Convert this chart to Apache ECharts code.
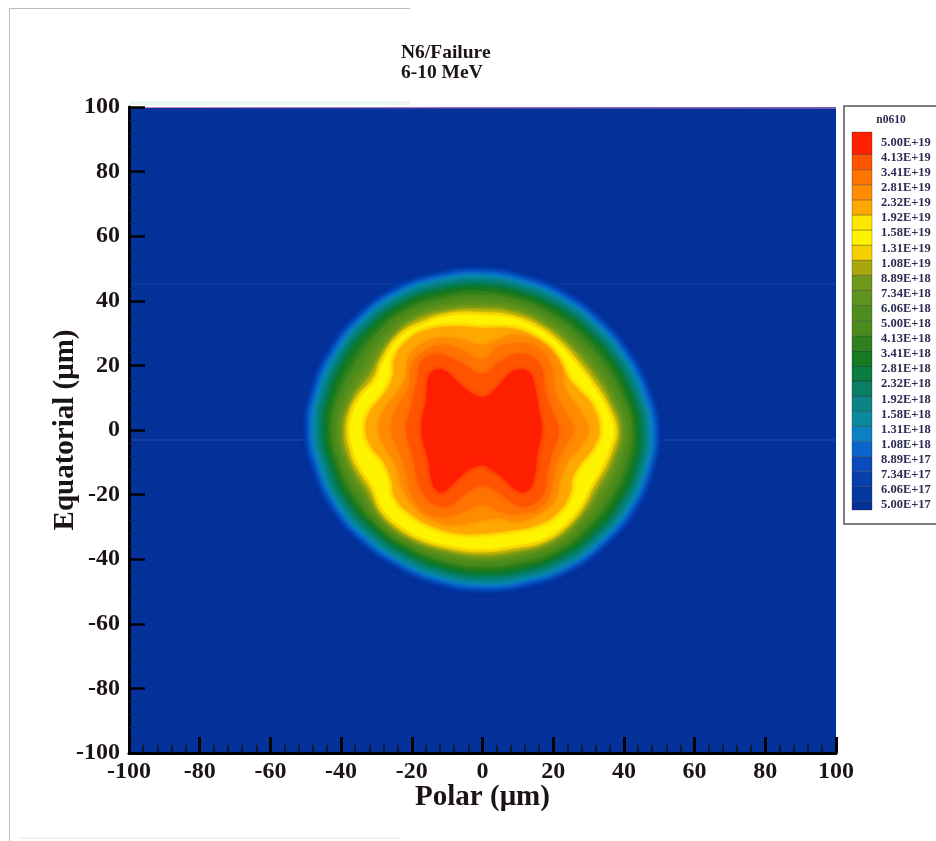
<!DOCTYPE html>
<html><head><meta charset="utf-8">
<style>html,body{margin:0;padding:0;background:#fff}#c{width:936px;height:841px;filter:blur(0.55px)}</style>
<script src="https://cdn.jsdelivr.net/npm/echarts@6/dist/echarts.min.js"></script>
</head><body><div id="c"></div>
<script>
const levelLabels=["5.00E+17","6.06E+17","7.34E+17","8.89E+17","1.08E+18","1.31E+18","1.58E+18","1.92E+18","2.32E+18","2.81E+18","3.41E+18","4.13E+18","5.00E+18","6.06E+18","7.34E+18","8.89E+18","1.08E+19","1.31E+19","1.58E+19","1.92E+19","2.32E+19","2.81E+19","3.41E+19","4.13E+19","5.00E+19"];
const levelColors=["#05329a","#0638a2","#0840ac","#0a4cbc","#0a66cc","#0c80c4","#0a8a9c","#0a8484","#0a7e66","#0a7c40","#167a22","#2e7f1e","#4a8a1e","#4f8e1e","#5f921e","#6f981a","#a8a80e","#f4d000","#fff400","#fde600","#ffa800","#ff8c00","#ff7400","#ff5400","#ff2000"];
// Legend band edges in level units (the labels sit just under each band edge)
const legendLow=-0.36, legendHigh=24.67, legendEdgeOffset=0.18;
// Outer contours: radii in µm, read every 15 degrees from +x counter-clockwise
const r1=[50.3,49.2,48.6,48.5,49.0,49.6,50.4,50.6,51.0,50.7,50.4,50.4,50.6,49.8,49.6,49.3,49.3,49.8,50.3,50.4,50.7,50.4,50.4,50.3];
const r2=[49.8,48.7,48.1,48.0,48.5,49.1,49.9,50.1,50.5,50.2,49.9,49.9,50.1,49.3,49.1,48.8,48.8,49.3,49.8,49.9,50.2,49.9,49.9,49.8];
const r3=[49.3,48.2,47.6,47.5,48.0,48.6,49.4,49.6,50.0,49.7,49.4,49.4,49.6,48.8,48.6,48.3,48.3,48.8,49.3,49.4,49.7,49.4,49.4,49.3];
const r4=[48.7,47.6,47.0,46.9,47.4,48.0,48.8,49.0,49.4,49.1,48.8,48.8,49.0,48.2,48.0,47.7,47.7,48.2,48.7,48.8,49.1,48.8,48.8,48.7];
const r5=[48.0,46.9,46.3,46.2,46.7,47.3,48.1,48.3,48.7,48.4,48.1,48.1,48.3,47.5,47.3,47.0,47.0,47.5,48.0,48.1,48.4,48.1,48.1,48.0];
const r6=[47.2,46.1,45.5,45.4,45.9,46.5,47.3,47.5,47.9,47.6,47.3,47.3,47.5,46.7,46.5,46.2,46.2,46.7,47.2,47.3,47.6,47.3,47.3,47.2];
const r7=[46.4,45.3,44.7,44.6,45.1,45.7,46.5,46.7,47.1,46.8,46.5,46.5,46.7,45.9,45.7,45.4,45.4,45.9,46.4,46.5,46.8,46.5,46.5,46.4];
const r8=[45.6,44.5,43.9,43.8,44.3,44.9,45.7,45.9,46.3,46.0,45.7,45.7,45.9,45.1,44.9,44.6,44.6,45.1,45.6,45.7,46.0,45.7,45.7,45.6];
const r9=[44.8,43.7,43.1,43.0,43.5,44.1,44.9,45.1,45.5,45.2,44.9,44.9,45.1,44.3,44.1,43.8,43.8,44.3,44.8,44.9,45.2,44.9,44.9,44.8];
const r10=[43.9,42.8,42.2,42.1,42.6,43.2,44.0,44.2,44.6,44.3,44.0,44.0,44.2,43.4,43.2,42.9,42.9,43.4,43.9,44.0,44.3,44.0,44.0,43.9];
const r11=[43,41.8,41.1,41,41.6,42.2,42.9,43.2,43.6,43.2,42.7,43,43.4,42.6,42.3,42.2,42.3,42.6,43,43.1,43.5,43,42.8,42.9];
const r12=[42.2,40.9,40,40,40.6,41.3,41.8,42.1,42.7,42.1,41.4,41.9,42.5,41.8,41.3,41.6,41.6,41.8,42.1,42.2,42.6,42.1,41.7,41.8];
const r13=[41.3,39.9,38.9,38.9,39.6,40.3,40.7,41.1,41.7,41,40.1,40.9,41.7,41,40.4,40.9,41,41,41.2,41.3,41.8,41.1,40.5,40.8];
const r14=[40.4,38.9,37.9,37.8,38.6,39.4,39.7,40.1,40.8,39.9,38.8,39.9,40.9,40.2,39.4,40.3,40.3,40.2,40.3,40.4,41,40.2,39.4,39.8];
const r15=[39.5,37.9,36.8,36.7,37.6,38.4,38.6,39.1,39.8,38.7,37.4,38.9,40.1,39.3,38.5,39.6,39.7,39.3,39.5,39.5,40.2,39.2,38.2,38.8];
const r16=[38.7,37,35.7,35.7,36.6,37.5,37.5,38,38.9,37.6,36.1,37.8,39.2,38.5,37.5,39,39,38.5,38.6,38.7,39.3,38.3,37.1,37.7];
// Core contours: [x,y] in µm, read around each outline counter-clockwise from +x
const p17=[[38,0],[35.6,7.7],[31.4,15],[26.7,21.7],[22,27.3],[16.3,32],[8.7,35.4],[0,36.4],[-9.7,36.1],[-17.2,33.5],[-23.8,29.4],[-28.5,22.2],[-30.9,16],[-35.1,10.8],[-37.5,5.7],[-38.4,0],[-37.5,-6.2],[-35.6,-11.4],[-31.4,-18.6],[-29,-24.8],[-24.3,-29.9],[-17.7,-34],[-9.2,-36.6],[0,-37.7],[8.7,-36.6],[17.2,-34.6],[23.8,-29.9],[28.5,-23.7],[31.4,-17.5],[34.7,-11.4],[37,-5.2]];
const p18=[[37,0],[34.7,7.3],[30.6,14.5],[26,21],[21.4,26.5],[15.8,31.1],[8.5,34.5],[0,35.4],[-9.4,35.1],[-16.7,32.6],[-23.1,28.6],[-27.7,21.6],[-30.1,15.5],[-34.2,10.3],[-36.5,5.4],[-37.4,0],[-36.5,-6],[-34.7,-11],[-30.6,-18],[-28.2,-24],[-23.7,-29],[-17.2,-33.1],[-9,-35.6],[0,-36.7],[8.5,-35.6],[16.7,-33.7],[23.2,-29.1],[27.7,-23.1],[30.6,-17],[33.8,-11],[36,-5]];
const p19=[[33.9,0],[31.9,8],[28.4,12.4],[25,16.6],[21.7,23.3],[15.8,29.2],[8.9,32.1],[0,32.4],[-8.9,32.9],[-15.7,31.9],[-21.6,28.6],[-25.6,22.6],[-26,17.4],[-28.4,11.9],[-32.6,6],[-33.9,0],[-32.3,-5.5],[-28.8,-10.2],[-26.5,-16],[-25.6,-21.1],[-21.1,-26.5],[-14.3,-30.7],[-6.6,-32.9],[0,-32.9],[8,-31.9],[15.7,-30.2],[21.7,-26.4],[25.6,-20.1],[26,-16],[27.9,-11.8],[32.3,-5.5]];
const p20=[[33,0],[31,7.7],[27.6,11.9],[24.3,16],[21,22.7],[15.3,28.4],[8.7,31.3],[0,31.5],[-8.7,32],[-15.3,31],[-21,27.9],[-24.8,22.2],[-25.2,17],[-27.6,11.4],[-31.8,5.7],[-33,0],[-31.4,-5.2],[-28,-9.8],[-25.7,-15.5],[-24.8,-20.6],[-20.5,-25.8],[-13.9,-29.9],[-6.4,-32],[0,-32],[7.8,-31],[15.3,-29.4],[21,-25.8],[24.8,-19.6],[25.2,-15.5],[27.1,-11.4],[31.4,-5.2]];
const p21=[[30,0],[27.1,6.7],[23.3,12.9],[22,20.1],[17.7,26.3],[9.7,29.4],[4,27.9],[0,26.3],[-5.9,27.9],[-12.5,28.4],[-17.7,26.3],[-21,22.2],[-21.5,17],[-24.5,11],[-27.6,6.7],[-29.3,0],[-27.1,-6.2],[-24.3,-11.4],[-22.9,-17.5],[-19.6,-23.2],[-15,-27.3],[-8.3,-29.4],[0,-27.9],[5,-27.3],[9.7,-28.4],[16.3,-25.8],[20.5,-21.7],[22,-15.5],[23.8,-10.3],[27.6,-5.2]];
const p22=[[25.7,0],[23.3,5.7],[20.5,11.9],[19.6,19.1],[15.8,25.3],[9.7,26.8],[4,25.3],[0,21.7],[-5.9,24.8],[-11.6,26.3],[-17.2,23.7],[-20,20.1],[-21,12.9],[-23.8,7.7],[-25.7,0],[-23.3,-7.2],[-21.5,-13.4],[-20,-19.6],[-16.7,-24.8],[-12,-26.8],[-6.4,-25.8],[0,-23],[5,-25.3],[11.6,-25.8],[17.2,-23.2],[19.6,-17.5],[21,-10.3],[23.3,-5.2]];
const p23=[[21.5,0],[19.6,5.7],[17.7,11.9],[16.7,19.1],[13.7,22.7],[9.7,23.4],[5,21],[0,17.3],[-5,20],[-8.7,22.2],[-12.5,23.4],[-17.2,21.2],[-18.2,16],[-20,7.7],[-21.5,0],[-19.6,-8.3],[-18.2,-15.5],[-16.3,-20.1],[-13,-23.2],[-9.2,-23.2],[-5.4,-20.1],[0,-17],[5,-19.6],[9.7,-23.2],[13.4,-23.2],[17.2,-19.6],[18.2,-13.4],[19.6,-7.2]];
const p24=[[16.7,0],[15.8,6.7],[14.4,15],[13,18],[10.6,18.6],[7.8,17.5],[4,12.9],[1.2,10.3],[-1.2,10.3],[-4,12],[-7.8,15.5],[-10.6,18.3],[-13.4,18.6],[-15.3,16],[-15.8,9.8],[-17.2,0],[-15.3,-9.3],[-14.4,-15.5],[-13,-18.6],[-11.1,-19.1],[-7.3,-15.5],[-3.5,-11.9],[0,-10.8],[2.1,-11.9],[5.9,-15],[9.7,-18.6],[12.5,-18.9],[14.4,-15.5],[15.5,-7.2]];

function fromRadii(r){return r.map((v,i)=>{const a=i*15*Math.PI/180;return [v*Math.cos(a),v*Math.sin(a)];});}
const outlines=[r1,r2,r3,r4,r5,r6,r7,r8,r9,r10,r11,r12,r13,r14,r15,r16].map(fromRadii)
  .concat([p17,p18,p19,p20,p21,p22,p23,p24]);

const serif='"Liberation Serif","Times New Roman",serif';
const ink='#1c1414';
const chart=echarts.init(document.getElementById('c'),null,{renderer:'canvas'});
chart.setOption({
  animation:false,backgroundColor:'#fff',
  title:[{text:'N6/Failure\n6-10 MeV',left:396,top:38,textStyle:{fontFamily:serif,fontWeight:'bold',fontSize:19.5,lineHeight:20,color:ink}}],
  grid:[
    {left:129,top:107,width:707,height:646,show:true,backgroundColor:levelColors[0],borderWidth:0},
    {left:852,top:135,width:20,height:377.6,show:false},
    {left:852,top:132,width:20,height:378,show:false}
  ],
  xAxis:[
    {gridIndex:0,type:'value',min:-100,max:100,interval:20,
     name:'Polar (μm)',nameLocation:'middle',nameGap:30,nameMoveOverlap:false,nameTextStyle:{fontFamily:serif,fontWeight:'bold',fontSize:29,color:ink},
     axisLine:{show:true,onZero:false,lineStyle:{color:'#000',width:3}},
     axisTick:{show:true,inside:true,length:16,lineStyle:{color:'#000',width:3}},
     minorTick:{show:true,splitNumber:5,length:8,lineStyle:{color:'#111',width:1.5}},
     splitLine:{show:false},minorSplitLine:{show:false},
     axisLabel:{fontFamily:serif,fontWeight:'bold',fontSize:24,color:ink,margin:7}},
    {gridIndex:1,type:'category',data:['n0610'],show:false},
    {gridIndex:2,type:'category',data:['n0610'],show:false}
  ],
  yAxis:[
    {gridIndex:0,type:'value',min:-100,max:100,interval:20,
     name:'Equatorial (μm)',nameLocation:'middle',nameRotate:90,nameGap:49,nameMoveOverlap:false,nameTextStyle:{fontFamily:serif,fontWeight:'bold',fontSize:29,color:ink},
     axisLine:{show:true,onZero:false,lineStyle:{color:'#000',width:3}},
     axisTick:{show:true,inside:true,length:16,lineStyle:{color:'#000',width:2.5}},
     minorTick:{show:true,splitNumber:5,length:8,lineStyle:{color:'#0a2a70',width:1}},
     splitLine:{show:false},minorSplitLine:{show:false},
     axisLabel:{fontFamily:serif,fontWeight:'bold',fontSize:24,color:ink,margin:9,padding:[3,0,0,0]}},
    {gridIndex:1,type:'category',data:levelLabels,position:'right',
     axisLine:{show:false},axisTick:{show:false},splitLine:{show:false},
     axisLabel:{interval:0,fontFamily:serif,fontWeight:'bold',fontSize:12.5,color:'#2b2b55',margin:9}},
    {gridIndex:2,type:'value',min:legendLow,max:legendHigh,show:false,splitLine:{show:false}}
  ],
  series:[
    {type:'custom',coordinateSystem:'cartesian2d',xAxisIndex:0,yAxisIndex:0,clip:true,silent:true,
     data:outlines.map((o,i)=>[i]),
     renderItem(params,api){
       const i=api.value(0),c=levelColors[i+1];
       return {type:'polygon',shape:{points:outlines[i].map(p=>api.coord(p)),smooth:0.45},
               style:{fill:c,stroke:c,lineWidth:0.5,shadowBlur:4,shadowColor:c}};
     }},
    {type:'custom',coordinateSystem:'cartesian2d',xAxisIndex:2,yAxisIndex:2,silent:true,
     data:levelLabels.map((l,i)=>[i,i===0?legendLow:i-1+legendEdgeOffset,i===24?legendHigh:i+legendEdgeOffset]),
     renderItem(params,api){
       const lo=api.coord([0,api.value(1)]),hi=api.coord([0,api.value(2)]),w=api.size([1,0])[0];
       return {type:'rect',shape:{x:lo[0]-w/2,y:hi[1],width:w,height:lo[1]-hi[1]},
               style:{fill:levelColors[api.value(0)],stroke:'rgba(30,30,30,0.5)',lineWidth:0.6}};
     },encode:{x:[],y:[1,2]}}
  ],
  graphic:[
    {type:'rect',z:-1,shape:{x:844,y:106,width:100,height:418},style:{fill:'#fff',stroke:'#555',lineWidth:1.5}},
    {type:'text',x:891,y:120,style:{text:'n0610',fontFamily:serif,fontWeight:'bold',fontSize:11.5,fill:'#2b2b55',textAlign:'center',textVerticalAlign:'middle'}},
    {type:'line',shape:{x1:129,y1:107.5,x2:836,y2:108},style:{stroke:'#d78ac8',lineWidth:1}},
    {type:'line',shape:{x1:130,y1:103,x2:410,y2:103},style:{stroke:'#eef6f0',lineWidth:4}},
    {type:'line',shape:{x1:131,y1:440,x2:836,y2:440},style:{stroke:'rgba(255,255,255,0.13)',lineWidth:1}},
    {type:'line',shape:{x1:131,y1:284,x2:836,y2:284},style:{stroke:'rgba(255,255,255,0.07)',lineWidth:1}},
    {type:'line',shape:{x1:9.5,y1:8,x2:9.5,y2:841},style:{stroke:'#bdbdbd',lineWidth:1}},
    {type:'line',shape:{x1:10,y1:8.5,x2:410,y2:8.5},style:{stroke:'#bdbdbd',lineWidth:1}},
    {type:'line',shape:{x1:20,y1:838,x2:400,y2:838},style:{stroke:'#e6e6e6',lineWidth:1}}
  ]
});
</script></body></html>
